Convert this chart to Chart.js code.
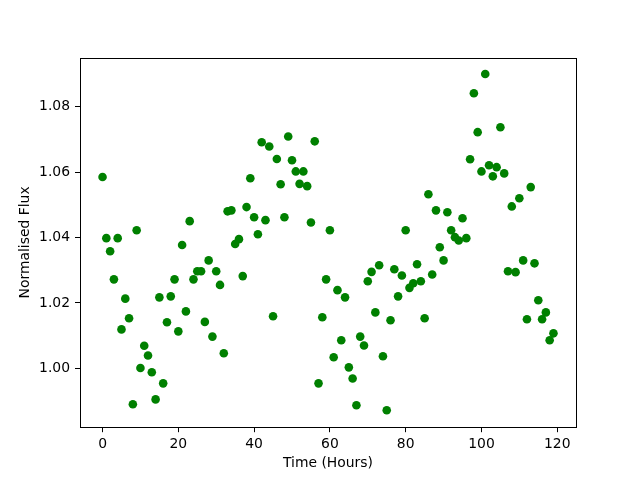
<!DOCTYPE html>
<html lang="en">
<head>
    <meta charset="UTF-8">
    <title>Normalised Flux</title>
    <script src="https://cdn.jsdelivr.net/npm/chart.js"></script>
    <style>
        html, body {
            margin: 0;
            padding: 0;
            background: #ffffff;
        }

        .chart-container {
            width: 640px;
            height: 480px;
        }
    </style>
</head>
<body>
    <div class="chart-container">
        <canvas id="flux-chart" width="640" height="480"></canvas>
    </div>

    <script>
        // Observation times (hours)
        const hours = [
            0, 1, 2, 3, 4, 5, 6, 7, 8, 9,
            10, 11, 12, 13, 14, 15, 16, 17, 18, 19,
            20, 21, 22, 23, 24, 25, 26, 27, 28, 29,
            30, 31, 32, 33, 34, 35, 36, 37, 38, 39,
            40, 41, 42, 43, 44, 45, 46, 47, 48, 49,
            50, 51, 52, 53, 54, 55, 56, 57, 58, 59,
            60, 61, 62, 63, 64, 65, 66, 67, 68, 69,
            70, 71, 72, 73, 74, 75, 76, 77, 78, 79,
            80, 81, 82, 83, 84, 85, 86, 87, 88, 89,
            90, 91, 92, 93, 94, 95, 96, 97, 98, 99,
            100, 101, 102, 103, 104, 105, 106, 107, 108, 109,
            110, 111, 112, 113, 114, 115, 116, 117, 118, 119
        ];

        // Normalised flux, one value per hour
        const flux = [
            1.0585, 1.0398, 1.0358, 1.0272, 1.0398, 1.0119, 1.0213, 1.0153, 0.9890, 1.0422,
            1.0001, 1.0069, 1.0039, 0.9988, 0.9905, 1.0217, 0.9954, 1.0141, 1.0220, 1.0272,
            1.0113, 1.0377, 1.0174, 1.0450, 1.0272, 1.0297, 1.0297, 1.0142, 1.0330, 1.0097,
            1.0297, 1.0255, 1.0046, 1.0480, 1.0483, 1.0380, 1.0395, 1.0282, 1.0493, 1.0581,
            1.0462, 1.0410, 1.0691, 1.0453, 1.0678, 1.0159, 1.0640, 1.0563, 1.0462, 1.0709,
            1.0636, 1.0602, 1.0564, 1.0602, 1.0557, 1.0446, 1.0694, 0.9954, 1.0156, 1.0272,
            1.0422, 1.0034, 1.0239, 1.0086, 1.0217, 1.0003, 0.9969, 0.9887, 1.0097, 1.0070,
            1.0266, 1.0295, 1.0171, 1.0315, 1.0037, 0.9872, 1.0147, 1.0303, 1.0220, 1.0284,
            1.0422, 1.0246, 1.0260, 1.0318, 1.0266, 1.0153, 1.0532, 1.0287, 1.0483, 1.0370,
            1.0330, 1.0477, 1.0422, 1.0401, 1.0391, 1.0459, 1.0398, 1.0639, 1.0841, 1.0722,
            1.0602, 1.0900, 1.0621, 1.0587, 1.0615, 1.0737, 1.0596, 1.0297, 1.0495, 1.0294,
            1.0520, 1.0330, 1.0150, 1.0554, 1.0321, 1.0208, 1.0150, 1.0171, 1.0086, 1.0107
        ];

        const xTicks = [0, 20, 40, 60, 80, 100, 120];
        const yTicks = [1.00, 1.02, 1.04, 1.06, 1.08];

        const tickFont = { family: "'DejaVu Sans', sans-serif", size: 13.9 };

        // Draw the full box around the plot area (matplotlib spines)
        const framePlugin = {
            id: 'frame',
            afterDraw(chart) {
                const { ctx, chartArea } = chart;
                const l = Math.round(chartArea.left) + 0.5;
                const t = Math.round(chartArea.top) + 0.5;
                const r = Math.round(chartArea.right) + 0.5;
                const b = Math.round(chartArea.bottom) + 0.5;
                ctx.save();
                ctx.strokeStyle = '#000000';
                ctx.lineWidth = 1;
                ctx.strokeRect(l, t, r - l, b - t);
                ctx.restore();
            }
        };

        const ctx = document.getElementById('flux-chart').getContext('2d');
        new Chart(ctx, {
            type: 'scatter',
            data: {
                datasets: [{
                    data: hours.map((h, i) => ({ x: h, y: flux[i] })),
                    backgroundColor: '#008000',
                    borderColor: '#008000',
                    borderWidth: 0,
                    pointRadius: 4.3,
                    pointHoverRadius: 4.3
                }]
            },
            options: {
                responsive: false,
                animation: false,
                devicePixelRatio: 1,
                layout: {
                    padding: { top: 57.6, right: 64, bottom: 0, left: 0 }
                },
                plugins: {
                    legend: { display: false },
                    tooltip: { enabled: false }
                },
                scales: {
                    x: {
                        type: 'linear',
                        min: -5.95,
                        max: 124.95,
                        afterBuildTicks: scale => {
                            scale.ticks = xTicks.map(v => ({ value: v }));
                        },
                        afterFit: scale => { scale.height = 52.8; },
                        border: { display: false },
                        grid: {
                            drawOnChartArea: false,
                            drawTicks: true,
                            tickLength: 5,
                            tickColor: '#000000',
                            tickWidth: 1
                        },
                        ticks: {
                            color: '#000000',
                            font: tickFont,
                            padding: 4,
                            maxRotation: 0,
                            callback: v => v
                        },
                        title: {
                            display: true,
                            text: 'Time (Hours)',
                            color: '#000000',
                            font: tickFont,
                            padding: { top: 0, bottom: 8.7 }
                        }
                    },
                    y: {
                        type: 'linear',
                        min: 0.982,
                        max: 1.095,
                        afterBuildTicks: scale => {
                            scale.ticks = yTicks.map(v => ({ value: v }));
                        },
                        afterFit: scale => { scale.width = 80; },
                        border: { display: false },
                        grid: {
                            drawOnChartArea: false,
                            drawTicks: true,
                            tickLength: 5,
                            tickColor: '#000000',
                            tickWidth: 1
                        },
                        ticks: {
                            color: '#000000',
                            font: tickFont,
                            padding: 5,
                            callback: v => v.toFixed(2)
                        },
                        title: {
                            display: true,
                            text: 'Normalised Flux',
                            color: '#000000',
                            font: tickFont,
                            padding: { top: 17, bottom: 0 }
                        }
                    }
                }
            },
            plugins: [framePlugin]
        });
    </script>
</body>
</html>
